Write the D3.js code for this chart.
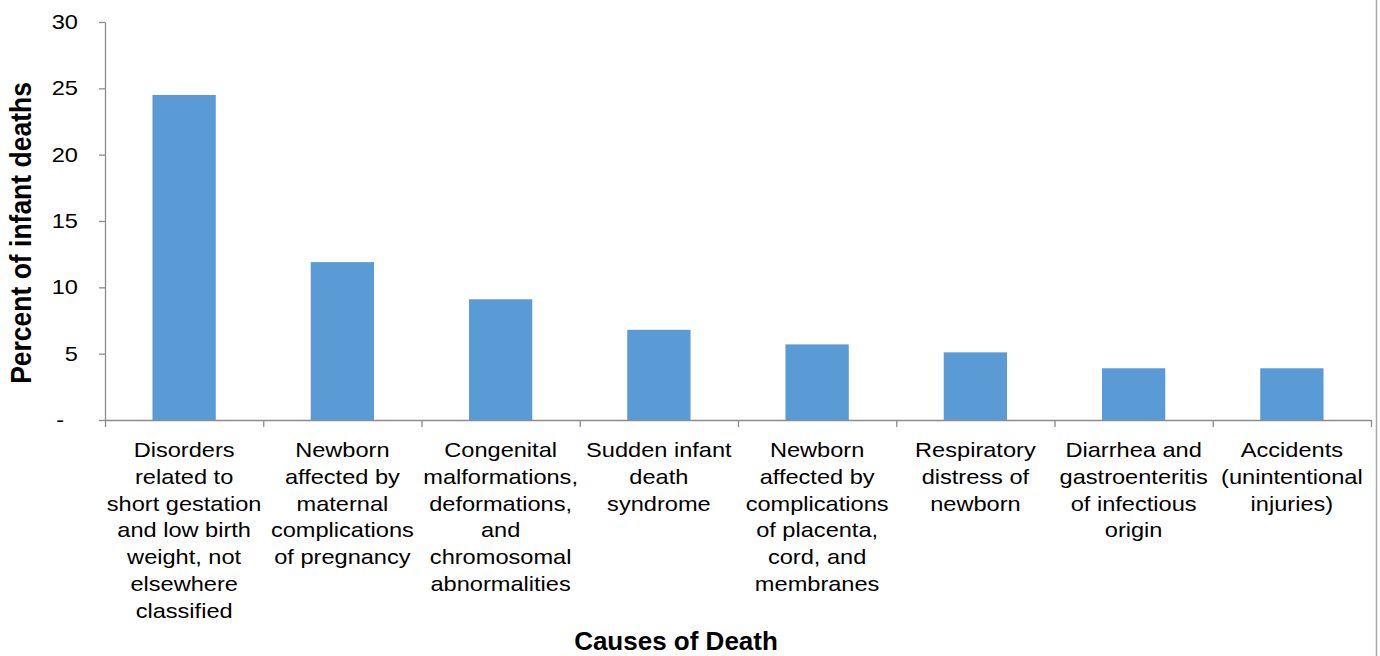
<!DOCTYPE html>
<html>
<head>
<meta charset="utf-8">
<script src="https://cdn.jsdelivr.net/npm/d3@7"></script>
<style>
  html, body { margin: 0; padding: 0; background: #fff; }
  svg { display: block; font-family: "Liberation Sans", Arial, sans-serif; }
</style>
</head>
<body>
<svg id="chart" width="1380" height="656"></svg>
<script>
// Leading causes of infant death, percent of all infant deaths
const categories = [
  "Disorders\nrelated to\nshort gestation\nand low birth\nweight, not\nelsewhere\nclassified",
  "Newborn\naffected by\nmaternal\ncomplications\nof pregnancy",
  "Congenital\nmalformations,\ndeformations,\nand\nchromosomal\nabnormalities",
  "Sudden infant\ndeath\nsyndrome",
  "Newborn\naffected by\ncomplications\nof placenta,\ncord, and\nmembranes",
  "Respiratory\ndistress of\nnewborn",
  "Diarrhea and\ngastroenteritis\nof infectious\norigin",
  "Accidents\n(unintentional\ninjuries)"
];
const percents = [24.5, 11.9, 9.1, 6.8, 5.7, 5.1, 3.9, 3.9];
const yTicks = [0, 5, 10, 15, 20, 25, 30];
const yTickLabels = ["-", "5", "10", "15", "20", "25", "30"];

const svg = d3.select("#chart");
const plotLeft = 105, plotRight = 1371, plotTop = 22, plotBottom = 420;
const wide = 1.18; // horizontal stretch of the regular-weight text

const x = d3.scaleBand()
  .domain(d3.range(categories.length))
  .range([plotLeft, plotRight])
  .paddingInner(0.6)
  .paddingOuter(0.3);

// boundary scale for the tick marks between categories
const xEdge = d3.scaleLinear().domain([0, categories.length]).range([plotLeft, plotRight]);

const y = d3.scaleLinear().domain([0, 30]).range([plotBottom, plotTop]);

const axisColor = "#8c8c8c";

// bars
svg.append("g")
  .selectAll("rect")
  .data(percents)
  .join("rect")
  .attr("x", (d, i) => x(i))
  .attr("y", d => y(d))
  .attr("width", x.bandwidth())
  .attr("height", d => y(0) - y(d))
  .attr("fill", "#5B9BD5");

// y axis
const yAxis = svg.append("g")
  .attr("transform", `translate(${plotLeft},0)`)
  .call(d3.axisLeft(y)
    .tickValues(yTicks)
    .tickFormat((d, i) => yTickLabels[i])
    .tickSize(6)
    .tickSizeOuter(0));
yAxis.select(".domain").attr("stroke", axisColor).attr("stroke-width", 1.3);
yAxis.selectAll(".tick line").attr("stroke", axisColor).attr("stroke-width", 1.3);
yAxis.selectAll(".tick text")
  .attr("x", 0)
  .attr("transform", d => `translate(${d === 0 ? -41 : -27},0) scale(${wide},1)`)
  .attr("fill", "#000")
  .style("font-size", "20px")
  .style("font-family", "'Liberation Sans', Arial, sans-serif");

// x axis with ticks on category boundaries
const xAxis = svg.append("g")
  .attr("transform", `translate(0,${plotBottom})`)
  .call(d3.axisBottom(xEdge)
    .tickValues(d3.range(categories.length + 1))
    .tickFormat("")
    .tickSize(7)
    .tickSizeOuter(0));
xAxis.select(".domain").attr("stroke", axisColor).attr("stroke-width", 1.3);
xAxis.selectAll(".tick line").attr("stroke", axisColor).attr("stroke-width", 1.3);

// category labels
const lineH = 26.8;
const labels = svg.append("g")
  .style("font-size", "20px")
  .attr("fill", "#000")
  .attr("text-anchor", "middle");
categories.forEach((c, i) => {
  const cx = x(i) + x.bandwidth() / 2;
  const t = labels.append("text")
    .attr("transform", `translate(${cx},457) scale(${wide},1)`);
  c.split("\n").forEach((line, j) => {
    t.append("tspan")
      .attr("x", 0)
      .attr("dy", j === 0 ? 0 : lineH)
      .text(line);
  });
});

// axis titles
svg.append("text")
  .attr("x", 676)
  .attr("y", 650)
  .attr("text-anchor", "middle")
  .style("font-size", "26px")
  .style("font-weight", "bold")
  .text("Causes of Death");

svg.append("text")
  .attr("transform", `translate(31,233) scale(1.1,1) rotate(-90)`)
  .attr("text-anchor", "middle")
  .style("font-size", "26.5px")
  .style("font-weight", "bold")
  .text("Percent of infant deaths");

// chart area right border
svg.append("line")
  .attr("x1", 1376.5).attr("x2", 1376.5)
  .attr("y1", 0).attr("y2", 656)
  .attr("stroke", "#a6a6a6")
  .attr("stroke-width", 1.5);
</script>
</body>
</html>
